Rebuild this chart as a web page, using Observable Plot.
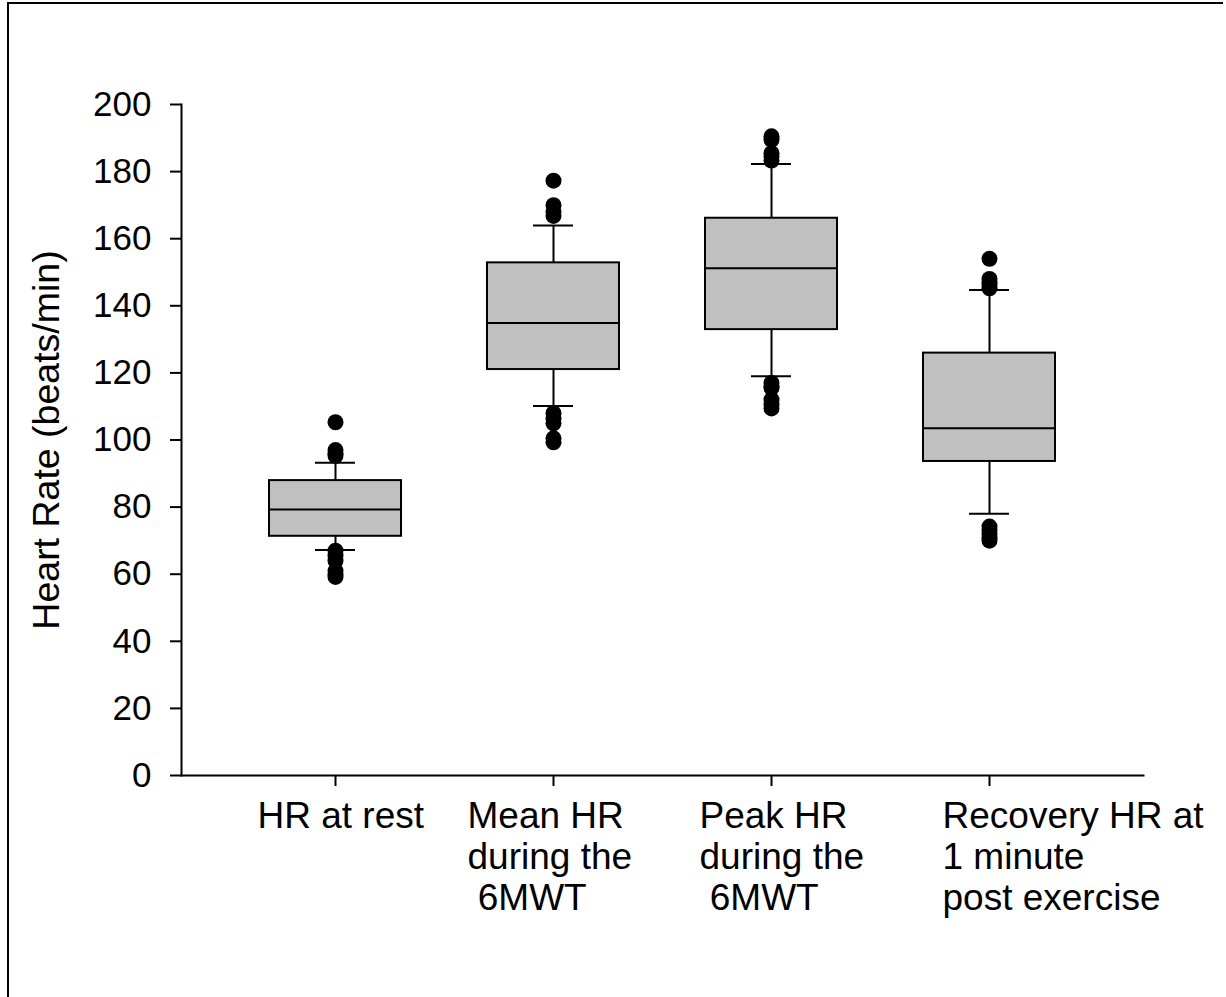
<!DOCTYPE html>
<html><head><meta charset="utf-8">
<script src="https://cdn.jsdelivr.net/npm/d3@7"></script>
<script src="https://cdn.jsdelivr.net/npm/@observablehq/plot@0.6"></script>
<style>
html,body{margin:0;padding:0;background:#fff;}
#wrap{position:relative;width:1226px;height:997px;overflow:hidden;font-family:"Liberation Sans",Arial,sans-serif;}
#frame{position:absolute;left:7px;top:2px;width:1216px;height:1000px;border-top:2px solid #000;border-left:2px solid #000;box-sizing:border-box;pointer-events:none;}
svg text{white-space:pre;}
</style></head><body>
<div id="wrap"><div id="chart"></div><div id="frame"></div></div>
<script>
// Categories and their axis label text (line breaks as in the original)
const categories = ["HR at rest", "Mean HR during the 6MWT", "Peak HR during the 6MWT", "Recovery HR at 1 minute post exercise"];
const categoryLabels = ["HR at rest", "Mean HR\nduring the\n 6MWT", "Peak HR\nduring the\n 6MWT", "Recovery HR at\n1 minute\npost exercise"];

// Box-plot statistics (beats/min)
const whiskerLow  = [67.2, 110.1, 119.0, 78.0];
const q1          = [71.3, 121.0, 132.9, 93.6];
const median      = [79.3, 134.9, 151.2, 103.5];
const q3          = [87.9, 152.8, 166.1, 125.9];
const whiskerHigh = [93.2, 163.9, 182.3, 144.7];

// Outliers per category
const outliersRest     = [105.3, 97, 96, 95.3, 67, 65.5, 64, 61, 60, 59.2];
const outliersMean     = [177.3, 170, 168, 166.8, 108, 106.5, 105, 100.5, 99.3];
const outliersPeak     = [190.5, 189.5, 185.5, 184.5, 183.3, 117, 116, 115.5, 112, 110.5, 109.4];
const outliersRecovery = [154, 148, 147, 146, 145.2, 74.2, 73, 72, 71, 70];

const yTicks = [0, 20, 40, 60, 80, 100, 120, 140, 160, 180, 200];
const yLabel = "Heart Rate (beats/min)";

// Tables built from the arrays
const boxes = categories.map((c, i) => ({category: c, lo: whiskerLow[i], q1: q1[i], med: median[i], q3: q3[i], hi: whiskerHigh[i]}));
const outliers = [outliersRest, outliersMean, outliersPeak, outliersRecovery]
  .flatMap((vals, i) => vals.map(v => ({category: categories[i], value: v})));

const labelDx = [-78, -86, -72, -47];
const font = '"Liberation Sans", Arial, sans-serif';

const chart = Plot.plot({
  width: 1226,
  height: 997,
  marginLeft: 181,
  marginRight: 83,
  marginTop: 104,
  marginBottom: 222,
  style: {fontFamily: font, background: "transparent", color: "#000"},
  x: {type: "band", domain: categories, paddingInner: 0.394, paddingOuter: 0.403, label: null},
  y: {domain: [0, 200], label: null},
  marks: [
    Plot.ruleX(boxes, {x: "category", y1: "lo", y2: "hi", stroke: "#000", strokeWidth: 2}),
    Plot.barY(boxes, {x: "category", y1: "q1", y2: "q3", fill: "#c0c0c0", stroke: "#000", strokeWidth: 2}),
    Plot.tickY(boxes, {x: "category", y: "med", stroke: "#000", strokeWidth: 2}),
    Plot.tickY(boxes, {x: "category", y: "lo", stroke: "#000", strokeWidth: 2, inset: 46}),
    Plot.tickY(boxes, {x: "category", y: "hi", stroke: "#000", strokeWidth: 2, inset: 46}),
    Plot.dot(outliers, {x: "category", y: "value", r: 8, fill: "#000", stroke: null}),
    Plot.frame({anchor: "left", stroke: "#000", strokeWidth: 2}),
    Plot.frame({anchor: "bottom", stroke: "#000", strokeWidth: 2}),
    Plot.axisY({ticks: yTicks, tickSize: 11, tickPadding: 19, fontSize: 35, stroke: "#000", strokeWidth: 2, label: null}),
    Plot.axisX({tickSize: 11, tickFormat: () => "", stroke: "#000", strokeWidth: 2, label: null}),
    Plot.text([yLabel], {frameAnchor: "left", dx: -149, rotate: -90, textAnchor: "middle", lineAnchor: "top", fontSize: 37.5, fill: "#000"}),
    ...categories.map((c, i) => Plot.text([c], {
      x: d => d, text: [categoryLabels[i]], frameAnchor: "bottom", dy: 24, dx: labelDx[i],
      textAnchor: "start", lineAnchor: "top", lineHeight: 1.1, fontSize: 37, fill: "#000"
    }))
  ]
});
document.getElementById("chart").appendChild(chart);
</script>
</body></html>
